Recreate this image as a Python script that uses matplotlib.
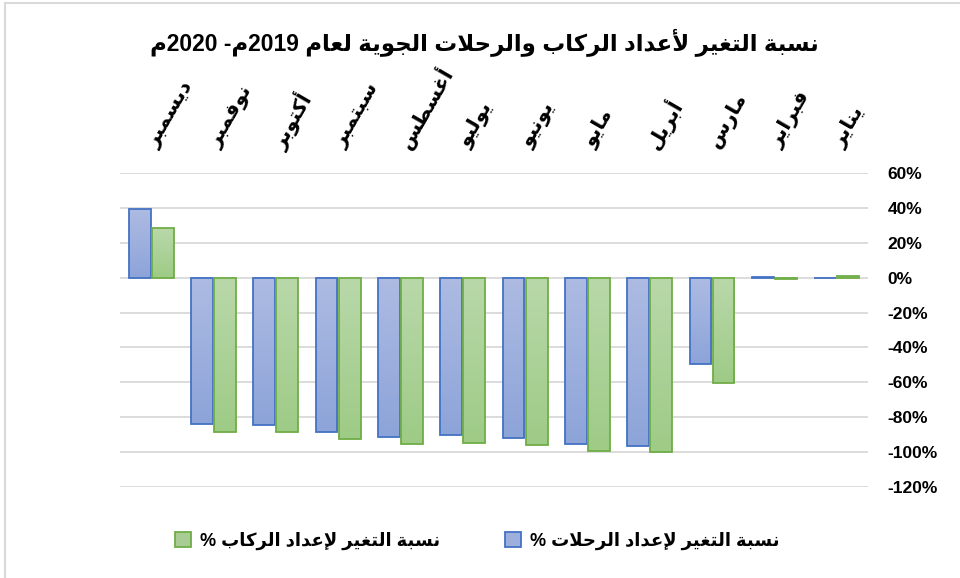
import re
import numpy as np
import matplotlib
matplotlib.use('Agg')
import matplotlib.pyplot as plt
from matplotlib.colors import LinearSegmentedColormap
from matplotlib.patches import Patch, Rectangle

# data (Jan .. Dec), percentages
months = ['يناير', 'فبراير', 'مارس', 'أبريل', 'مايو', 'يونيو',
          'يوليو', 'أغسطس', 'سبتمبر', 'أكتوبر', 'نوفمبر', 'ديسمبر']
flights = [-0.3, 0.5, -49.6, -96.7, -95.2, -92.1, -90.0, -91.2, -88.7, -84.5, -84.0, 39.2]
passengers = [1.0, -1.0, -60.2, -99.8, -99.3, -96.0, -95.0, -95.4, -92.5, -88.5, -88.5, 28.6]
yticks = [-120, -100, -80, -60, -40, -20, 0, 20, 40, 60]

title = 'نسبة التغير لأعداد الركاب والرحلات الجوية لعام 2019م- 2020م'
label_flights = 'نسبة التغير لإعداد الرحلات %'
label_passengers = 'نسبة التغير لإعداد الركاب %'

# matplotlib has no arabic shaping, so do a small one by hand
# char -> (isolated form code point, number of forms)
FORMS = {
    'ء': (0xFE80, 1), 'آ': (0xFE81, 2), 'أ': (0xFE83, 2), 'ؤ': (0xFE85, 2),
    'إ': (0xFE87, 2), 'ئ': (0xFE89, 4), 'ا': (0xFE8D, 2), 'ب': (0xFE8F, 4),
    'ة': (0xFE93, 2), 'ت': (0xFE95, 4), 'ث': (0xFE99, 4), 'ج': (0xFE9D, 4),
    'ح': (0xFEA1, 4), 'خ': (0xFEA5, 4), 'د': (0xFEA9, 2), 'ذ': (0xFEAB, 2),
    'ر': (0xFEAD, 2), 'ز': (0xFEAF, 2), 'س': (0xFEB1, 4), 'ش': (0xFEB5, 4),
    'ص': (0xFEB9, 4), 'ض': (0xFEBD, 4), 'ط': (0xFEC1, 4), 'ظ': (0xFEC5, 4),
    'ع': (0xFEC9, 4), 'غ': (0xFECD, 4), 'ف': (0xFED1, 4), 'ق': (0xFED5, 4),
    'ك': (0xFED9, 4), 'ل': (0xFEDD, 4), 'م': (0xFEE1, 4), 'ن': (0xFEE5, 4),
    'ه': (0xFEE9, 4), 'و': (0xFEED, 2), 'ى': (0xFEEF, 2), 'ي': (0xFEF1, 4),
}
LAM_ALEF = {'آ': 0xFEF5, 'أ': 0xFEF7, 'إ': 0xFEF9, 'ا': 0xFEFB}


def shape(text):
    units = []
    i = 0
    while i < len(text):
        c = text[i]
        if c == 'ل' and i + 1 < len(text) and text[i + 1] in LAM_ALEF:
            units.append(('LA', text[i + 1]))
            i += 2
        else:
            units.append((c, None))
            i += 1

    def dual(u):
        return u is not None and u[0] in FORMS and FORMS[u[0]][1] == 4

    def arabic(u):
        return u is not None and (u[0] == 'LA' or u[0] in FORMS)

    out = []
    for k, (c, a) in enumerate(units):
        prev = units[k - 1] if k > 0 else None
        nxt = units[k + 1] if k + 1 < len(units) else None
        jp = dual(prev)
        if c == 'LA':
            out.append(chr(LAM_ALEF[a] + (1 if jp else 0)))
            continue
        if c not in FORMS:
            out.append(c)
            continue
        base, n = FORMS[c]
        if n == 1:
            out.append(chr(base))
        elif n == 2:
            out.append(chr(base + (1 if jp else 0)))
        else:
            jn = arabic(nxt)
            off = {(False, False): 0, (True, False): 1, (False, True): 2, (True, True): 3}[(jp, jn)]
            out.append(chr(base + off))
    vis = ''.join(out)[::-1]
    # numbers stay left to right
    return re.sub(r'[0-9]+', lambda m: m.group()[::-1], vis)


plt.rcParams['font.family'] = ['Liberation Sans', 'DejaVu Sans']
plt.rcParams['font.weight'] = 'bold'

blue_edge = '#4472c4'
green_edge = '#70ad47'
blue_cmap = LinearSegmentedColormap.from_list('b', ['#adbbe2', '#8da4d9'])
green_cmap = LinearSegmentedColormap.from_list('g', ['#b9d8aa', '#9ecb86'])

fig = plt.figure(figsize=(9.6, 5.78), dpi=100)
ax = fig.add_axes([0.125, 0.1574, 0.779, 0.5433])

x = np.arange(len(months))
w = 0.35
ymin, ymax = -120, 60


def gradient_bars(xpos, vals, cmap, edge):
    bars = ax.bar(xpos, vals, w, facecolor='none', edgecolor=edge, linewidth=1.3, zorder=4)
    grad = np.linspace(0, 1, 64).reshape(-1, 1)
    for b in bars:
        x0 = b.get_x()
        y0 = min(b.get_y(), b.get_y() + b.get_height())
        y1 = max(b.get_y(), b.get_y() + b.get_height())
        ax.imshow(grad, cmap=cmap, aspect='auto', origin='upper',
                  extent=[x0, x0 + w, y0, y1], zorder=3, interpolation='bilinear')


# x axis is reversed (december on the left), so blue sits at +offset
gradient_bars(x + 0.185, flights, blue_cmap, blue_edge)
gradient_bars(x - 0.185, passengers, green_cmap, green_edge)

ax.set_xlim(11.5, -0.5)
ax.set_ylim(ymin, ymax)
ax.set_yticks(yticks)
ax.set_yticklabels([f'{v}%' for v in yticks], fontsize=12.5, fontweight='bold')
ax.yaxis.tick_right()
ax.tick_params(axis='y', length=0, pad=14)
ax.set_xticks([])
ax.grid(axis='y', color='#d9d9d9', linewidth=1.3, zorder=0)
ax.set_axisbelow(True)
for s in ax.spines.values():
    s.set_visible(False)

for xi, m in zip(x, months):
    ax.text(xi - 0.02, 1.085, shape(m), transform=ax.get_xaxis_transform(),
            rotation=60, rotation_mode='anchor', ha='left', va='center',
            fontsize=14.5, fontweight='bold')

fig.text(0.505, 0.927, shape(title), ha='center', va='center', fontsize=16.5, fontweight='bold')

handles = [Patch(facecolor='#a8cc94', edgecolor=green_edge, linewidth=1.3),
           Patch(facecolor='#9db0dd', edgecolor=blue_edge, linewidth=1.3)]
fig.legend(handles, [shape(label_passengers), shape(label_flights)],
           loc='center', bbox_to_anchor=(0.497, 0.064), ncol=2, frameon=False,
           handlelength=0.9, handleheight=0.9, handletextpad=0.5, columnspacing=3.6,
           prop={'size': 13, 'weight': 'bold'})

# chart border (only top / left show)
fig.patches.append(Rectangle((5 / 960, -0.1), 1.2, 1.1 - 3 / 578, transform=fig.transFigure,
                             fill=False, edgecolor='#d9d9d9', linewidth=1.5))

fig.savefig('out.png', dpi=100)
